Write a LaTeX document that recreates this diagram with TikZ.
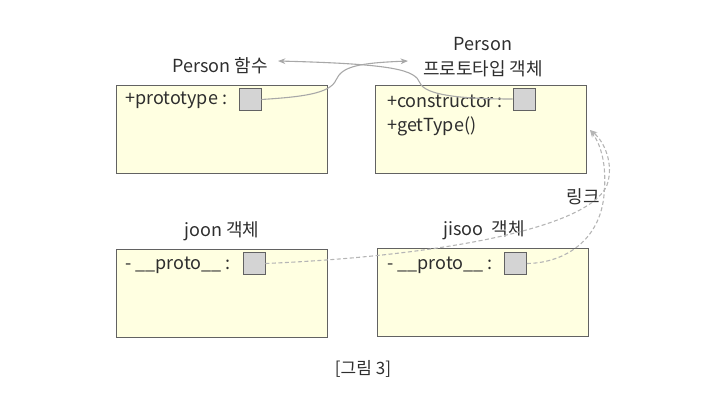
\documentclass[tikz,border=0pt]{standalone}
\usepackage{fontspec}
\setmainfont{Noto Sans CJK KR}
\usetikzlibrary{positioning, arrows.meta, calc}

\definecolor{boxfill}{HTML}{FFFFE1}
\definecolor{boxline}{HTML}{626262}
\definecolor{slotfill}{HTML}{D4D4D4}
\definecolor{linkgray}{HTML}{A8A8A8}
\definecolor{textgray}{HTML}{2E2E2E}

\begin{document}
\begin{tikzpicture}[
    x=1pt, y=-1pt,
    objbox/.style={
        draw=boxline,
        thick,
        fill=boxfill,
        minimum width=211pt,
        minimum height=88pt,
        inner sep=0pt
    },
    slot/.style={
        draw=boxline,
        thick,
        fill=slotfill,
        minimum size=22pt,
        inner sep=0pt
    },
    member/.style={
        anchor=west,
        inner sep=0pt,
        text=textgray,
        font=\fontsize{18}{21}\selectfont
    },
    title/.style={
        text=textgray,
        align=center,
        inner sep=0pt,
        font=\fontsize{18}{25}\selectfont
    },
    link/.style={
        >={Stealth[length=2.6mm, width=2mm]},
        ->,
        draw=linkgray,
        line width=1.1pt
    },
    protolink/.style={
        link,
        dashed,
        dash pattern=on 4pt off 2.5pt,
        draw=linkgray!85
    }
]
    \useasboundingbox (0,0) rectangle (715,410);

    % Boxes
    \node[objbox] (func) at (221.5,129) {};
    \node[objbox] (proto) at (481,129) {};
    \node[objbox] (joon) at (221.5,293.5) {};
    \node[objbox] (jisoo) at (482.5,292.5) {};

    % Slots
    \node[slot] (funcslot) at (250,99.5) {};
    \node[slot] (protoslot) at (524,99) {};
    \node[slot] (joonslot) at (254,263.5) {};
    \node[slot] (jisooslot) at (515.5,263.5) {};

    % Members
    \node[member] (prototype) at (125,100) {+prototype :};
    \node[member] (constructor) at (387,101) {+constructor :};
    \node[member] (gettype) at (387,126) {+getType()};
    \node[member] (joonproto) at (125,265) {- \_\_proto\_\_ :};
    \node[member] (jisooproto) at (387,265) {- \_\_proto\_\_ :};

    % Titles
    \node[title] (functitle) at (220,66) {Person 함수};
    \node[title] (prototitle) at (483,57.5) {Person\\프로토타입 객체};
    \node[title] (joontitle) at (222,231) {joon 객체};
    \node[title] (jisootitle) at (484,230) {jisoo\ \ 객체};
    \node[title] (linktitle) at (583,197) {링크};
    \node[title, font=\fontsize{17}{20}\selectfont] (caption) at (363,369) {[그림 3]};

    % Arrow ends
    \coordinate (toproto) at (408,61);
    \coordinate (tofunc) at (278,61);
    \coordinate (toproto2) at (590,130);

    % Links
    \draw[link] (funcslot.east) .. controls (300,97) and (330,94) .. (336,80)
        .. controls (342,66) and (360,63) .. (toproto);
    \draw[link] (protoslot.west) .. controls (460,99) and (425,95) .. (420,83)
        .. controls (415,70) and (395,64) .. (tofunc);
    \draw[protolink] (joonslot.east) .. controls (440,256) and (590,228) .. (607,185)
        .. controls (614,165) and (605,142) .. (toproto2);
    \draw[protolink] (jisooslot.east) .. controls (565,263) and (600,240) .. (604,195)
        .. controls (607,165) and (601,145) .. (toproto2);

\end{tikzpicture}
\end{document}
